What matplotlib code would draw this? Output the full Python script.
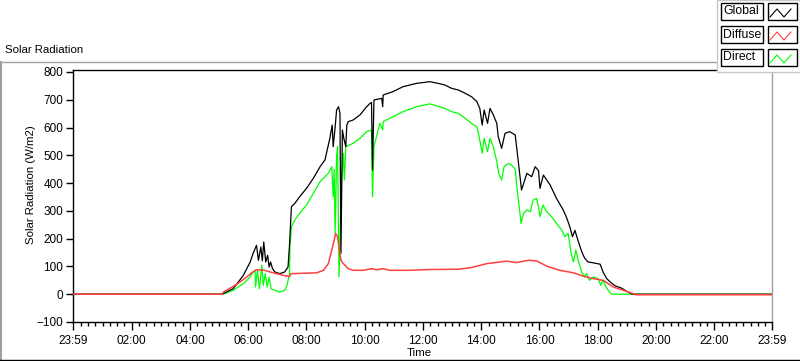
import matplotlib
matplotlib.use("Agg")
import matplotlib.pyplot as plt
from matplotlib.lines import Line2D
from matplotlib.patches import Rectangle

plt.rcParams['font.family'] = ['Liberation Sans', 'DejaVu Sans']

# time in minutes after midnight (-1 = 23:59 of the day before)
t_global = [-1, 306, 329, 350, 364, 370, 377, 381, 386, 389, 392, 396, 400, 403, 406, 410,
            415, 425, 435, 442, 445, 449, 456, 466, 480, 494, 508, 518, 528, 533, 535,
            539, 542, 546, 549, 551, 554, 557, 561, 563, 566, 576, 590, 604, 611, 614,
            616, 619, 635, 637, 638, 658, 679, 707, 734, 751, 765, 779, 793, 807, 820,
            831, 837, 842, 846, 853, 858, 865, 872, 875, 882, 889, 899, 910, 916, 923,
            934, 944, 951, 958, 961, 968, 982, 995, 1009, 1016, 1023, 1028, 1033, 1040,
            1047, 1053, 1060, 1071, 1085, 1091, 1098, 1107, 1116, 1129, 1140, 1151, 1439]
v_global = [0, 0, 20, 68, 116, 147, 176, 122, 170, 120, 188, 116, 140, 98, 116, 92,
            80, 74, 80, 98, 176, 315, 327, 351, 381, 417, 459, 483, 560, 609, 531,
            600, 663, 675, 651, 147, 591, 560, 531, 609, 621, 627, 645, 675, 687, 690,
            447, 699, 705, 675, 717, 729, 747, 759, 765, 759, 753, 741, 735, 723, 711,
            693, 669, 609, 663, 615, 669, 645, 615, 567, 525, 579, 585, 573, 483, 375,
            435, 423, 459, 445, 381, 429, 393, 345, 303, 275, 240, 207, 230, 190,
            153, 130, 116, 113, 108, 80, 57, 42, 30, 22, 10, 0, 0]

t_diffuse = [-1, 306, 309, 329, 343, 357, 367, 377, 391, 405, 419, 432, 445, 448, 467,
             501, 515, 525, 532, 537, 540, 544, 548, 551, 556, 566, 576, 597, 614, 624,
             638, 652, 693, 734, 793, 820, 851, 892, 913, 937, 954, 975, 1002, 1030,
             1050, 1071, 1091, 1112, 1133, 1153, 1157, 1439]
v_diffuse = [0, 0, 8, 28, 44, 62, 77, 88, 87, 80, 74, 68, 64, 74, 75,
             77, 86, 110, 158, 194, 219, 207, 158, 122, 110, 92, 86, 86, 92, 88,
             92, 86, 86, 89, 90, 96, 110, 119, 114, 122, 120, 101, 86, 77,
             65, 56, 50, 26, 14, 2, -2, -2]

t_direct = [-1, 308, 329, 350, 364, 370, 374, 375, 379, 383, 388, 391, 395, 399, 403,
            407, 415, 425, 435, 440, 445, 446, 449, 456, 466, 480, 494, 508, 518, 525,
            532, 535, 537, 539, 542, 544, 547, 549, 552, 556, 558, 561, 576, 590, 604,
            614, 616, 619, 631, 637, 638, 658, 679, 707, 734, 765, 779, 793, 807, 820,
            831, 835, 842, 846, 853, 858, 865, 872, 876, 882, 887, 896, 902, 910, 914,
            919, 922, 927, 934, 941, 947, 954, 958, 961, 967, 975, 985, 995, 1006,
            1012, 1019, 1025, 1030, 1035, 1040, 1047, 1053, 1057, 1063, 1071, 1081,
            1086, 1091, 1097, 1104, 1109, 1439]
v_direct = [0, 0, 14, 38, 62, 80, 86, 26, 86, 20, 104, 32, 74, 26, 62,
            20, 14, 8, 14, 32, 74, 170, 243, 267, 291, 321, 363, 405, 423, 435,
            459, 351, 450, 219, 495, 531, 62, 200, 411, 507, 411, 531, 543, 561, 585,
            591, 351, 531, 615, 591, 621, 639, 657, 675, 685, 669, 657, 651, 633, 615,
            603, 573, 507, 561, 513, 561, 531, 477, 435, 411, 459, 471, 465, 450, 375,
            303, 255, 291, 303, 297, 339, 345, 315, 279, 321, 297, 279, 255, 231,
            207, 219, 150, 116, 159, 120, 80, 62, 74, 50, 62, 56,
            32, 50, 26, 8, 0, 0]

tick_pos = [-1, 120, 240, 360, 480, 600, 720, 840, 960, 1080, 1200, 1320, 1439]
tick_lbl = ['23:59', '02:00', '04:00', '06:00', '08:00', '10:00', '12:00',
            '14:00', '16:00', '18:00', '20:00', '22:00', '23:59']
y_ticks = [800, 700, 600, 500, 400, 300, 200, 100, 0, -100]

W, H = 800, 361
fig = plt.figure(figsize=(W / 100, H / 100), dpi=100)

def fx(x):
    return x / W

def fy(y):
    return 1 - y / H

ax = fig.add_axes([fx(73), fy(322), fx(772) - fx(73), fy(70) - fy(322)])
ax.plot(t_direct, v_direct, color='#00ff00', lw=0.9, zorder=2)
ax.plot(t_global, v_global, color='black', lw=0.9, zorder=3)
ax.plot(t_diffuse, v_diffuse, color='#ff4040', lw=1.1, zorder=4)

ax.set_xlim(-1, 1439)
ax.set_ylim(-100, 807)
ax.set_yticks(y_ticks)
ax.set_xticks(tick_pos)
ax.set_xticklabels(tick_lbl)
ax.set_xticks([m for m in range(15, 1439, 15) if m % 120 != 0], minor=True)
ax.tick_params(axis='y', length=5, width=1, pad=2, labelsize=8.5)
ax.tick_params(axis='x', which='major', length=6, width=1, pad=3, labelsize=8.5)
ax.tick_params(axis='x', which='minor', length=3, width=1)
for s in ['left', 'top', 'bottom']:
    ax.spines[s].set_color('black')
    ax.spines[s].set_linewidth(1)
ax.spines['right'].set_color('#a0a0a0')
ax.spines['right'].set_linewidth(1)

# panel frame
fig.add_artist(Line2D([0, 1], [fy(61.5)] * 2, transform=fig.transFigure, color='#a0a0a0', lw=1))
fig.add_artist(Line2D([fx(0.8)] * 2, [fy(61.5), fy(360)], transform=fig.transFigure, color='#a0a0a0', lw=1.5))
fig.add_artist(Line2D([0, 1], [fy(359.5)] * 2, transform=fig.transFigure, color='black', lw=1))

fig.text(fx(5), fy(50), 'Solar Radiation', fontsize=8.2, va='center', ha='left')
fig.text(fx(31), fy(185), 'Solar Radiation (W/m2)', fontsize=8.2, va='center', ha='center', rotation=90)
fig.text(fx(419), fy(353), 'Time', fontsize=8.2, va='center', ha='center')

# legend panel
fig.add_artist(Rectangle((fx(717), fy(72)), 1 - fx(717), fy(0) - fy(72), transform=fig.transFigure,
                         facecolor='white', edgecolor='#c8c8c8', lw=1, zorder=5))
names = ['Global', 'Diffuse', 'Direct']
colors = ['black', '#ff4040', '#00ff00']
for i, (name, c) in enumerate(zip(names, colors)):
    top = 3 + i * 23
    fig.add_artist(Rectangle((fx(721), fy(top + 17)), fx(763) - fx(721), fy(top) - fy(top + 17),
                             transform=fig.transFigure, facecolor='white', edgecolor='black', lw=1, zorder=6))
    fig.add_artist(Rectangle((fx(768), fy(top + 17)), fx(797) - fx(768), fy(top) - fy(top + 17),
                             transform=fig.transFigure, facecolor='white', edgecolor='black', lw=1, zorder=6))
    fig.text(fx(723), fy(top + 8.5), name, fontsize=8.8, va='center', ha='left', zorder=7)
    zx = [fx(770), fx(777), fx(784), fx(791)]
    zy = [fy(top + 14), fy(top + 6), fy(top + 14), fy(top + 6)]
    fig.add_artist(Line2D(zx, zy, transform=fig.transFigure, color=c, lw=0.8, zorder=7))

fig.savefig('out.png', dpi=100, facecolor='white')
